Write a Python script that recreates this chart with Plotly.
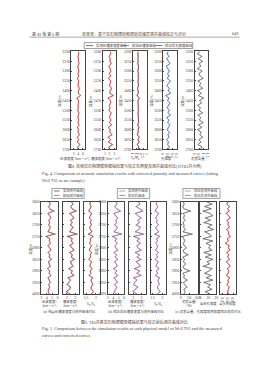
import plotly.graph_objects as go

W, H = 268, 380
def fx(x): return x / W
def fy(y): return 1 - y / H

# ---------------- data ----------------
depth4 = [3200, 3212.5, 3225, 3237.5, 3250, 3262.5, 3275, 3287.5, 3300, 3312.5, 3325, 3337.5,
          3350, 3362.5, 3375, 3387.5, 3400, 3412.5, 3425, 3437.5, 3450, 3462.5, 3475, 3487.5,
          3500, 3512.5, 3525, 3537.5, 3550, 3562.5, 3575, 3587.5, 3600, 3612.5, 3625, 3637.5,
          3650, 3662.5, 3675, 3687.5, 3700]
vp4_meas = [4.0,4.2,3.8,4.1,3.9,4.4,3.7,4.0,4.3,3.9,4.1,3.6,4.2,4.0,3.8,4.5,4.1,3.9,5.2,3.3,4.0,
            4.2,3.8,4.1,3.7,4.3,4.0,3.9,4.2,3.8,4.4,3.6,4.1,3.9,4.6,3.4,4.2,3.5,4.8,3.7,4.0]
vp4_sim = [3.9,4.3,3.9,4.0,4.0,4.3,3.8,4.1,4.2,3.8,4.2,3.7,4.1,4.1,3.9,4.4,4.0,4.0,4.9,3.5,4.1,
           4.1,3.9,4.0,3.8,4.2,4.1,3.8,4.3,3.9,4.3,3.7,4.0,4.0,4.4,3.6,4.1,3.7,4.6,3.8,3.9]
vs4_meas = [2.1,2.3,1.9,2.2,2.0,2.4,1.8,2.1,2.3,2.0,2.2,1.7,2.3,2.1,1.9,2.5,2.2,2.0,2.9,1.6,2.1,
            2.3,1.9,2.2,1.8,2.4,2.1,2.0,2.3,1.9,2.5,1.7,2.2,2.0,2.6,1.6,2.3,1.7,2.7,1.8,2.1]
vs4_sim = [2.2,2.2,2.0,2.1,2.1,2.3,1.9,2.2,2.2,1.9,2.3,1.8,2.2,2.2,2.0,2.4,2.1,2.1,2.7,1.7,2.2,
           2.2,2.0,2.1,1.9,2.3,2.2,1.9,2.4,2.0,2.4,1.8,2.1,2.1,2.5,1.7,2.2,1.8,2.6,1.9,2.0]
ratio4_meas = [1.75,1.70,1.80,1.72,1.78,1.68,1.83,1.74,1.70,1.79,1.73,1.86,1.71,1.76,1.81,1.66,1.74,
               1.78,1.55,1.95,1.75,1.71,1.80,1.73,1.84,1.69,1.76,1.78,1.72,1.81,1.67,1.87,1.74,1.77,
               1.63,1.92,1.72,1.90,1.60,1.85,1.76]
ratio4_sim = [1.73,1.72,1.78,1.74,1.76,1.70,1.80,1.72,1.72,1.77,1.75,1.83,1.73,1.74,1.79,1.68,1.76,
              1.76,1.60,1.90,1.73,1.73,1.78,1.75,1.81,1.71,1.74,1.80,1.70,1.79,1.69,1.84,1.76,1.75,
              1.66,1.88,1.74,1.86,1.64,1.82,1.74]
por4_meas = [0.10,0.08,0.12,0.07,0.11,0.14,0.06,0.10,0.13,0.09,0.12,0.08,0.15,0.11,0.07,0.13,0.10,
             0.16,0.05,0.12,0.09,0.14,0.11,0.08,0.13,0.10,0.15,0.07,0.12,0.09,0.14,0.11,0.08,0.13,
             0.10,0.12,0.07,0.11,0.09,0.13,0.10]
por4_corr = [0.11,0.09,0.13,0.08,0.12,0.15,0.07,0.11,0.14,0.10,0.13,0.09,0.16,0.12,0.08,0.14,0.11,
             0.17,0.06,0.13,0.10,0.15,0.12,0.09,0.14,0.11,0.16,0.08,0.13,0.10,0.15,0.12,0.09,0.14,
             0.11,0.13,0.08,0.12,0.10,0.14,0.11]
vsh4_meas = [0.60,0.30,0.80,0.40,0.90,0.50,0.70,0.30,0.85,0.45,0.60,0.95,0.35,0.70,0.50,0.90,0.30,
             0.75,0.40,1.00,0.55,0.80,0.30,0.65,0.45,0.90,0.35,0.70,0.50,0.95,0.40,0.80,0.30,0.75,
             0.55,0.90,0.45,0.70,0.35,0.85,0.60]
vsh4_corr = [0.55,0.35,0.75,0.45,0.85,0.45,0.65,0.35,0.80,0.50,0.55,0.90,0.40,0.65,0.55,0.85,0.35,
             0.70,0.45,0.95,0.50,0.75,0.35,0.60,0.50,0.85,0.40,0.65,0.55,0.90,0.45,0.75,0.35,0.70,
             0.60,0.85,0.50,0.65,0.40,0.80,0.55]

depth5 = [3600,3610,3620,3630,3640,3650,3660,3670,3680,3690,3700,3710,3720,3730,3740,3750,3760,
          3770,3780,3790,3800,3810,3820,3830,3840,3850,3860,3870,3880,3890,3900,3910,3920,3930,
          3940,3950,3960,3970,3980,3990,4000]
vp5_meas = [4.5,4.7,4.3,4.6,5.4,4.2,4.5,4.8,4.4,4.6,4.3,4.7,4.5,4.2,5.6,3.8,4.6,4.4,4.7,4.3,4.5,
            4.8,4.2,4.6,4.4,4.9,4.3,4.5,4.7,4.1,4.6,4.4,4.8,4.2,4.5,4.7,4.3,4.6,4.4,4.2,4.5]
vp5_sim_a = [4.4,4.6,4.4,4.5,5.1,4.3,4.6,4.7,4.3,4.5,4.4,4.6,4.4,4.3,5.2,4.0,4.5,4.5,4.6,4.2,4.6,
             4.7,4.3,4.5,4.5,4.7,4.4,4.4,4.6,4.2,4.5,4.5,4.7,4.3,4.4,4.6,4.4,4.5,4.3,4.3,4.4]
vp5_sim_b = [4.6,4.7,4.2,4.7,5.3,4.1,4.4,4.9,4.5,4.7,4.2,4.8,4.6,4.1,5.5,3.9,4.7,4.3,4.8,4.4,4.4,
             4.9,4.1,4.7,4.3,4.8,4.2,4.6,4.8,4.0,4.7,4.3,4.9,4.1,4.6,4.8,4.2,4.7,4.5,4.1,4.6]
vs5_meas = [2.6,2.8,2.4,2.7,3.2,2.3,2.6,2.9,2.5,2.7,2.4,2.8,2.6,2.3,3.3,2.0,2.7,2.5,2.8,2.4,2.6,
            2.9,2.3,2.7,2.5,3.0,2.4,2.6,2.8,2.2,2.7,2.5,2.9,2.1,2.4,2.2,2.0,2.5,2.3,1.9,2.4]
vs5_sim_a = [2.5,2.7,2.5,2.6,3.0,2.4,2.7,2.8,2.4,2.6,2.5,2.7,2.5,2.4,3.1,2.2,2.6,2.6,2.7,2.3,2.7,
             2.8,2.4,2.6,2.6,2.8,2.5,2.5,2.7,2.3,2.6,2.6,2.8,2.2,2.5,2.3,2.1,2.4,2.4,2.0,2.3]
vs5_sim_b = [2.7,2.8,2.3,2.8,3.1,2.2,2.5,3.0,2.6,2.8,2.3,2.9,2.7,2.2,3.2,2.1,2.8,2.4,2.9,2.5,2.5,
             3.0,2.2,2.8,2.4,2.9,2.3,2.7,2.9,2.1,2.8,2.4,3.0,2.0,2.5,2.1,2.1,2.6,2.2,2.0,2.5]
ratio5_meas = [1.72,1.68,1.76,1.70,1.62,1.80,1.73,1.66,1.75,1.71,1.78,1.67,1.72,1.81,1.60,1.88,1.70,
               1.74,1.66,1.77,1.72,1.65,1.79,1.70,1.74,1.63,1.78,1.72,1.68,1.82,1.70,1.75,1.64,1.85,
               1.76,1.80,1.86,1.74,1.78,1.90,1.76]
ratio5_sim_a = [1.74,1.70,1.74,1.72,1.65,1.78,1.71,1.68,1.77,1.73,1.76,1.69,1.74,1.79,1.64,1.84,1.72,
                1.72,1.68,1.79,1.70,1.67,1.77,1.72,1.72,1.66,1.76,1.74,1.70,1.80,1.72,1.73,1.67,1.82,
                1.74,1.78,1.83,1.76,1.76,1.86,1.78]
ratio5_sim_b = [1.70,1.69,1.78,1.69,1.63,1.82,1.75,1.65,1.73,1.70,1.80,1.66,1.70,1.83,1.61,1.86,1.69,
                1.76,1.65,1.75,1.74,1.64,1.81,1.69,1.76,1.62,1.80,1.71,1.67,1.84,1.69,1.77,1.63,1.87,
                1.78,1.82,1.84,1.73,1.80,1.88,1.74]
vsh5_before = [15,20,12,18,60,14,22,16,25,13,19,17,28,12,70,10,18,24,15,20,35,14,18,45,12,22,16,30,
               14,19,55,13,21,17,40,15,23,38,18,26,20]
vsh5_after = [13,18,11,16,52,13,20,14,22,12,17,15,25,11,62,9,16,21,14,18,31,13,16,40,11,20,14,27,
              13,17,48,12,19,15,36,14,21,34,16,23,18]
por5_before = [8,15,5,14,3,12,16,6,13,4,15,9,17,5,12,14,3,16,7,13,10,15,4,14,6,16,8,12,3,15,11,5,
               14,7,16,4,13,9,15,6,12]
por5_after = [9,14,6,13,4,13,15,7,12,5,14,10,16,6,11,13,4,15,8,12,11,14,5,13,7,15,9,11,4,14,12,6,
              13,8,15,5,12,10,14,7,11]
sw5_before = [0.62,0.55,0.68,0.58,0.66,0.52,0.64,0.70,0.56,0.63,0.59,0.67,0.54,0.65,0.60,0.71,0.57,
              0.63,0.50,0.66,0.61,0.69,0.55,0.64,0.58,0.67,0.53,0.62,0.70,0.57,0.65,0.60,0.54,0.68,
              0.59,0.63,0.56,0.66,0.61,0.58,0.64]
sw5_after = [0.60,0.57,0.66,0.60,0.64,0.54,0.62,0.68,0.58,0.61,0.61,0.65,0.56,0.63,0.62,0.69,0.59,
             0.61,0.52,0.64,0.63,0.67,0.57,0.62,0.60,0.65,0.55,0.64,0.68,0.59,0.63,0.62,0.56,0.66,
             0.61,0.61,0.58,0.64,0.63,0.60,0.62]

ticks4_y = [3200, 3250, 3300, 3350, 3400, 3450, 3500, 3550, 3600, 3650, 3700]
ticks5_y = [3600, 3650, 3700, 3750, 3800, 3850, 3900, 3950, 4000]

# ---------------- panels ----------------
BLK, RED, DRED, BLUE, NAVY, GRAY = "#222222", "#d01c24", "#8a1016", "#3a6fc4", "#1b2f6e", "#777777"
panels = [
    dict(box=(70, 84, 50, 149), d=depth4, yr=[3700, 3200], yt=ticks4_y, ylab=True,
         xr=[1, 7], xt=[2, 4, 6], curves=[(vp4_meas, DRED), (vp4_sim, RED)]),
    dict(box=(102, 116, 50, 149), d=depth4, yr=[3700, 3200], yt=ticks4_y, ylab=True,
         xr=[0.5, 3.5], xt=[1, 2, 3], curves=[(vs4_meas, DRED), (vs4_sim, RED)]),
    dict(box=(133, 147, 50, 149), d=depth4, yr=[3700, 3200], yt=ticks4_y, ylab=True,
         xr=[1, 3], xt=[1, 1.5, 2, 2.5, 3], curves=[(ratio4_meas, BLK), (ratio4_sim, DRED)]),
    dict(box=(164, 178, 50, 149), d=depth4, yr=[3700, 3200], yt=ticks4_y, ylab=True,
         xr=[0, 0.3], xt=[0, 0.1, 0.2, 0.3], curves=[(por4_meas, NAVY), (por4_corr, BLUE)]),
    dict(box=(196, 210, 50, 149), d=depth4, yr=[3700, 3200], yt=ticks4_y, ylab=True,
         xr=[0, 1.5], xt=[0, 0.5, 1, 1.5], curves=[(vsh4_meas, BLK), (vsh4_corr, GRAY)]),
    dict(box=(39, 56, 202, 295), d=depth5, yr=[4000, 3600], yt=ticks5_y, ylab=True,
         xr=[3, 6], xt=[3, 4, 5, 6], curves=[(vp5_meas, BLK), (vp5_sim_a, RED)]),
    dict(box=(61, 78, 202, 295), d=depth5, yr=[4000, 3600], yt=ticks5_y, ylab=False,
         xr=[1.5, 3.5], xt=[2, 3], curves=[(vs5_meas, BLK), (vs5_sim_a, RED)]),
    dict(box=(83, 99, 202, 295), d=depth5, yr=[4000, 3600], yt=ticks5_y, ylab=False,
         xr=[1.4, 2.2], xt=[1.5, 2], curves=[(ratio5_meas, BLK), (ratio5_sim_a, RED)]),
    dict(box=(107, 124, 202, 295), d=depth5, yr=[4000, 3600], yt=ticks5_y, ylab=True,
         xr=[3, 6], xt=[3, 4, 5, 6], curves=[(vp5_sim_b, RED), (vp5_meas, BLUE)]),
    dict(box=(129, 146, 202, 295), d=depth5, yr=[4000, 3600], yt=ticks5_y, ylab=False,
         xr=[1.5, 3.5], xt=[2, 3], curves=[(vs5_sim_b, RED), (vs5_meas, BLUE)]),
    dict(box=(151, 167, 202, 295), d=depth5, yr=[4000, 3600], yt=ticks5_y, ylab=False,
         xr=[1.4, 2.2], xt=[1.5, 2], curves=[(ratio5_sim_b, RED), (ratio5_meas, BLUE)]),
    dict(box=(182, 199, 202, 295), d=depth5, yr=[4000, 3600], yt=ticks5_y, ylab=True,
         xr=[0, 100], xt=[0, 50, 100], curves=[(vsh5_before, BLK), (vsh5_after, GRAY)]),
    dict(box=(202, 218, 202, 295), d=depth5, yr=[4000, 3600], yt=ticks5_y, ylab=False,
         xr=[0, 20], xt=[0, 10, 20], curves=[(por5_before, BLK), (por5_after, GRAY)]),
    dict(box=(222, 238, 202, 295), d=depth5, yr=[4000, 3600], yt=ticks5_y, ylab=False,
         xr=[0.3, 0.9], xt=[0.4, 0.6, 0.8], curves=[(sw5_before, DRED), (sw5_after, RED)]),
]

TXT = "#444"
TICKF = dict(family="Liberation Serif", size=3.8, color=TXT)
CJK = "Noto Sans CJK SC"
fig = go.Figure()
lay = {}
for i, p in enumerate(panels, start=1):
    sfx = "" if i == 1 else str(i)
    for vals, col in p["curves"]:
        fig.add_trace(go.Scatter(x=vals, y=p["d"], mode="lines", line=dict(color=col, width=0.5),
                                 xaxis="x" + sfx, yaxis="y" + sfx, showlegend=False, hoverinfo="skip"))
    x0, x1, y0, y1 = p["box"]
    lay["xaxis" + sfx] = dict(domain=[fx(x0), fx(x1)], anchor="y" + sfx, range=p["xr"], tickvals=p["xt"],
                              showline=True, mirror=True, linecolor="#444", linewidth=0.5,
                              ticks="inside", ticklen=1.2, tickwidth=0.4, tickcolor="#444",
                              showgrid=False, zeroline=False, tickfont=TICKF, ticklabelstandoff=0)
    lay["yaxis" + sfx] = dict(domain=[fy(y1), fy(y0)], anchor="x" + sfx, range=p["yr"], tickvals=p["yt"],
                              showticklabels=p["ylab"], showline=True, mirror=True, linecolor="#444",
                              linewidth=0.5, ticks="inside", ticklen=1.2, tickwidth=0.4, tickcolor="#444",
                              showgrid=False, zeroline=False, tickfont=TICKF)

ann = []
shapes = []
def txt(x, y, s, size=4.2, anchor="center", family=CJK, angle=0, color=TXT):
    ann.append(dict(x=fx(x), y=fy(y), xref="paper", yref="paper", text=s, showarrow=False,
                    xanchor=anchor, yanchor="middle", textangle=angle,
                    font=dict(family=family, size=size, color=color)))

# header
txt(28, 32, "第 41 卷 第 5 期", 4.0, "left")
txt(134, 32, "张某某：基于岩石物理的致密砂岩储层测井曲线校正与评价", 4.0)
txt(242, 32, "649", 4.2, "right", "Liberation Serif")
shapes.append(dict(type="line", xref="paper", yref="paper", x0=fx(27), x1=fx(242), y0=fy(35.5), y1=fy(35.5),
                   line=dict(color="#555", width=0.5)))

# fig 4 legend
shapes.append(dict(type="rect", xref="paper", yref="paper", x0=fx(83), x1=fx(194), y0=fy(47), y1=fy(41),
                   line=dict(color="#444", width=0.5)))
leg4 = [(85, BLK, "实测纵横波速度曲线"), (122, RED, "模拟纵横波曲线"), (156, BLK, "校正后孔隙度曲线")]
for lx, col, s in leg4:
    shapes.append(dict(type="line", xref="paper", yref="paper", x0=fx(lx), x1=fx(lx + 7), y0=fy(44), y1=fy(44),
                       line=dict(color=col, width=0.6)))
    txt(lx + 8, 44, s, 3.4, "left")

# fig 4 y titles and x titles
for (x0, x1, y0, y1), xt_ in zip([p["box"] for p in panels[:5]],
                                  ["纵波速度/(km·s<sup>-1</sup>)", "横波速度/(km·s<sup>-1</sup>)",
                                   "V<sub>P</sub>/V<sub>S</sub>", "孔隙度", "泥质含量"]):
    txt(x0 - 12, 100, "深度/m", 3.4, angle=-90)
    txt((x0 + x1) / 2 - 4, 158, xt_, 3.4)
txt(135, 166, "图4  其他岩石物理模型模拟结果与校正孔隙度及测井曲线对比(以T61井为例)", 4.0)
txt(38, 173, "Fig. 4  Comparison of acoustic simulation results with corrected porosity and measured curves (taking",
    4.3, "left", "Liberation Serif")
txt(38, 180, "Well T61 as an example)", 4.3, "left", "Liberation Serif")

# fig 5 legends
leg5 = [(50, 83, [(BLK, "实测测井曲线"), (RED, "模拟测井曲线")]),
        (117, 150, [(BLUE, "实测测井曲线"), (RED, "校正后曲线")]),
        (184, 222, [(GRAY, "校正前测井曲线"), (RED, "校正后测井曲线")])]
for lx0, lx1, items in leg5:
    shapes.append(dict(type="rect", xref="paper", yref="paper", x0=fx(lx0), x1=fx(lx1), y0=fy(198.5), y1=fy(188.5),
                       line=dict(color="#444", width=0.5)))
    for k, (col, s) in enumerate(items):
        yy = 191 + k * 4.5
        shapes.append(dict(type="line", xref="paper", yref="paper", x0=fx(lx0 + 2), x1=fx(lx0 + 8),
                           y0=fy(yy), y1=fy(yy), line=dict(color=col, width=0.6)))
        txt(lx0 + 9, yy, s, 3.3, "left")

# fig 5 titles
titles5 = ["纵波速度/<br>(km·s<sup>-1</sup>)", "横波速度/<br>(km·s<sup>-1</sup>)", "V<sub>P</sub>/V<sub>S</sub>",
           "纵波速度/<br>(km·s<sup>-1</sup>)", "横波速度/<br>(km·s<sup>-1</sup>)", "V<sub>P</sub>/V<sub>S</sub>",
           "泥质含量/<br>(%)", "岩石孔隙度", "含水饱和度"]
for p, t in zip(panels[5:], titles5):
    x0, x1, y0, y1 = p["box"]
    txt((x0 + x1) / 2, 305, t, 3.3)
for gx in [28, 96, 171]:
    txt(gx, 250, "深度/m", 3.4, angle=-90)
txt(68, 313, "(a) 地层纵横波速度与测井曲线对比", 3.4)
txt(137, 313, "(b) 校正后纵横波速度与测井曲线对比", 3.4)
txt(210, 313, "(c) 泥质含量、孔隙度和饱和度校正前后对比", 3.4)
txt(135, 323, "图5  T61井各岩石物理模型模拟结果与校正前后测井曲线对比", 4.0)
txt(38, 330, "Fig. 5  Comparison between the simulation results of each physical model of Well T61 and the measured",
    4.3, "left", "Liberation Serif")
txt(38, 337, "curves and corrected curves", 4.3, "left", "Liberation Serif")

fig.update_layout(**lay)
fig.update_layout(width=W, height=H, margin=dict(l=0, r=0, t=0, b=0), paper_bgcolor="white",
                  plot_bgcolor="white", annotations=ann, shapes=shapes, showlegend=False)
fig.write_html("out.html")
